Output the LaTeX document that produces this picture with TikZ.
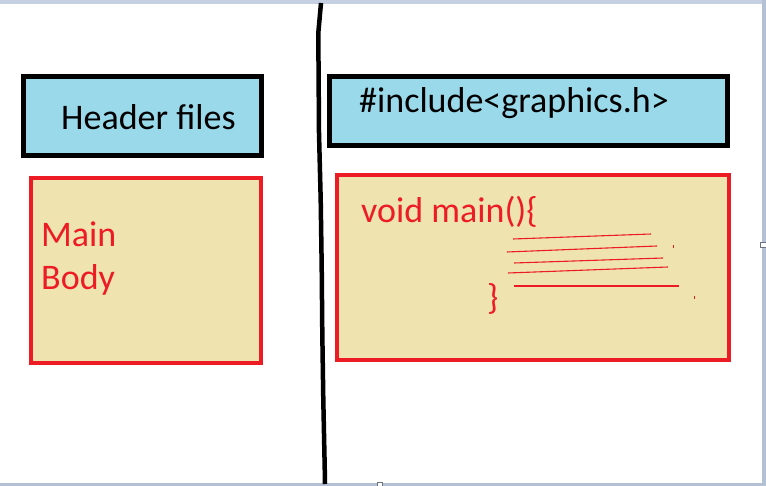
\documentclass[tikz,border=0pt]{standalone}
\usepackage{fontspec}
\setmainfont{Carlito}
\definecolor{paintblue}{HTML}{99D9EA}
\definecolor{painttan}{HTML}{EFE4B0}
\definecolor{paintred}{HTML}{ED1C24}
\definecolor{framea}{HTML}{C5D0E3}
\definecolor{frameb}{HTML}{B4C0D3}
\begin{document}
\begin{tikzpicture}[x=1pt,y=-1pt,
  bluebox/.style={draw=black, fill=paintblue, line width=5pt, inner sep=0pt},
  tanbox/.style={draw=paintred, fill=painttan, line width=4pt, inner sep=0pt},
  lbl/.style={font=\fontsize{36}{43}\selectfont, inner sep=0pt, anchor=base west},
  scribble/.style={draw=paintred, line width=1.1pt}]
\useasboundingbox (0,0) rectangle (766,486);
\fill[white] (0,0) rectangle (766,486);
\fill[framea] (0,0) rectangle (766,4);
\fill[frameb] (762,0) rectangle (766,486);
\fill[frameb] (0,483) rectangle (766,486);
\draw[frameb!60!black, fill=white, line width=0.8pt] (760.5,242) rectangle (766,247.5);
\draw[frameb!60!black, fill=white, line width=0.8pt] (377,482.5) rectangle (382,487);
% divider
\draw[line width=4.5pt] (321,3) -- (318.3,33) -- (319,133) -- (320.7,200) -- (321.7,267) -- (322.3,333) -- (323.3,400) -- (324.7,467) -- (325,484);
% boxes
\node[bluebox, minimum width=238pt, minimum height=79pt] (hdr) at (142.5,116) {};
\node[tanbox, minimum width=230pt, minimum height=185pt] (body) at (146,270.5) {};
\node[bluebox, minimum width=398pt, minimum height=69pt] (inc) at (528.5,111) {};
\node[tanbox, minimum width=392pt, minimum height=185pt] (mainfn) at (533,267.5) {};
% texts
\node[lbl] (hdrtext) at (61,130) {Header files};
\node[lbl, text=paintred] (maintext) at (41,247) {Main};
\node[lbl, text=paintred] (bodytext) at (41,290) {Body};
\node[lbl] (inctext) at (359,113) {\#include<graphics.h>};
\node[lbl, text=paintred] (voidtext) at (361,223) {void main()\{};
\node[lbl, text=paintred] (closebrace) at (487,310) {\}};
% scribbled lines
\draw[scribble] (513,239) -- (651,234);
\draw[scribble] (507,252) -- (657,246);
\draw[scribble] (514,263) -- (663,258);
\draw[scribble] (508,273) -- (668,267);
\draw[scribble] (514,286) -- (679,286);
\fill[paintred] (673,245.5) rectangle (674.2,248);
\fill[paintred] (694,296.5) rectangle (695.2,299);
\end{tikzpicture}
\end{document}
